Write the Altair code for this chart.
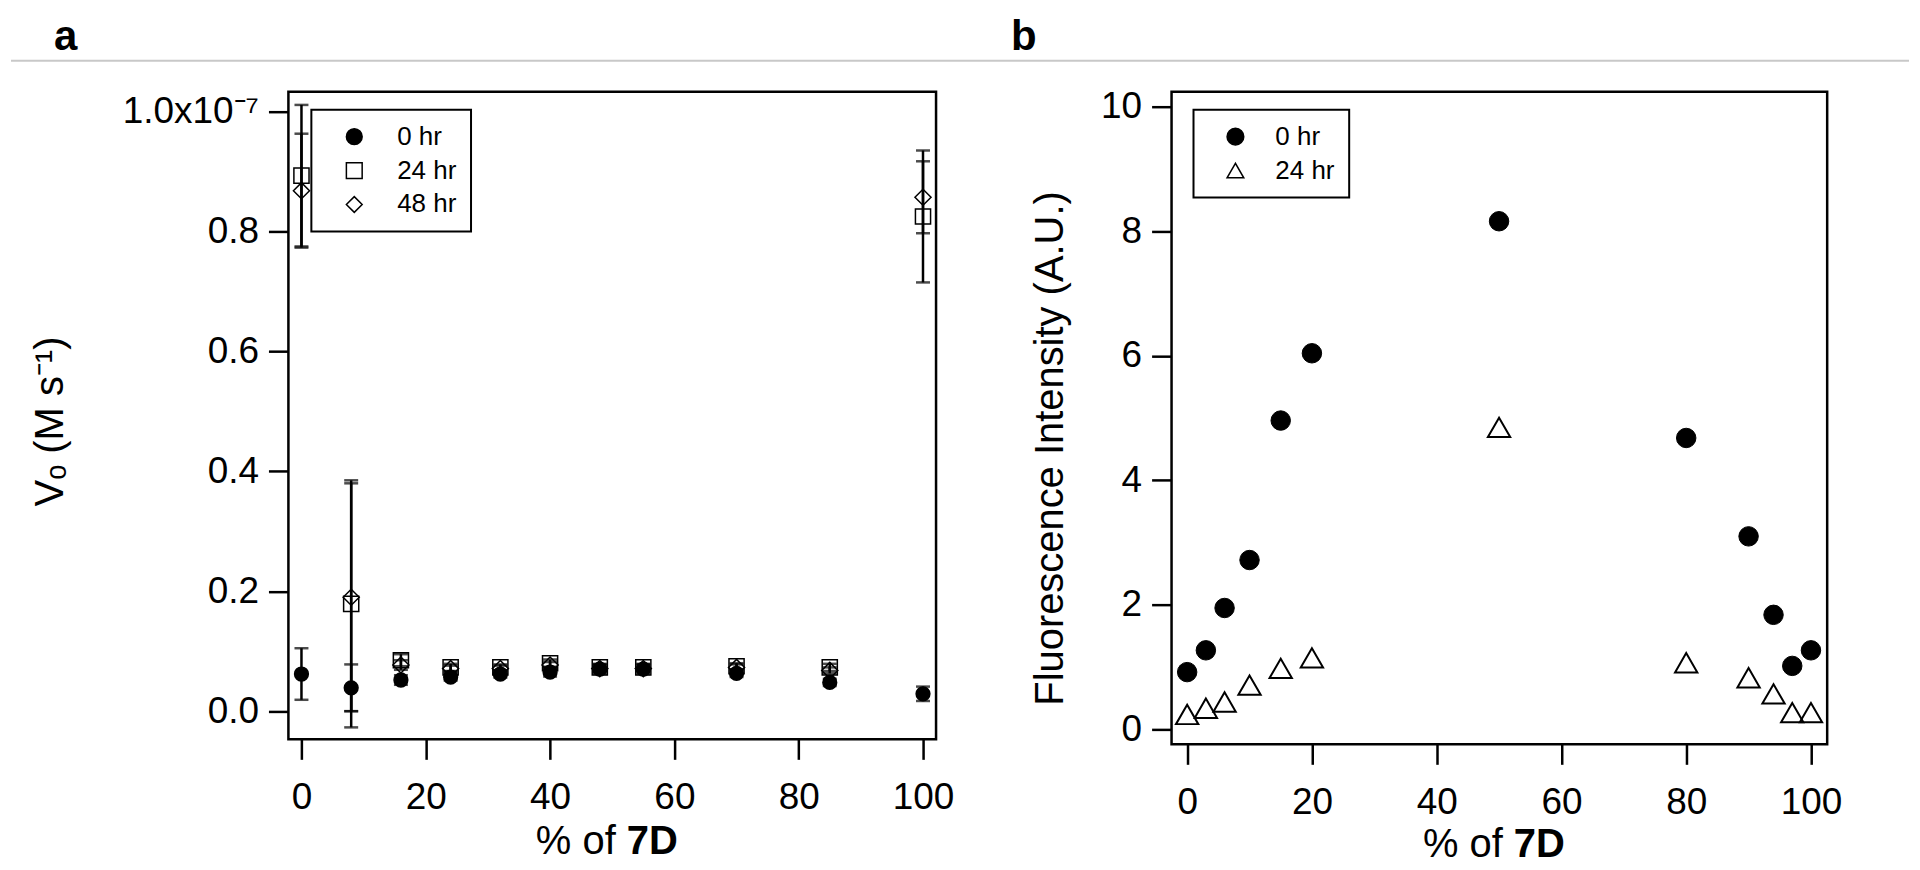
import altair as alt
import pandas as pd

FONT = "Liberation Sans"

# ---------------- panel a : V0 (units of 1e-7 M s^-1) vs % of 7D ----------------
pct_a = [0, 8, 16, 24, 32, 40, 48, 55, 70, 85, 100]
v0_0hr = [0.062, 0.039, 0.052, 0.057, 0.062, 0.065, 0.070, 0.070, 0.063, 0.048, 0.029]
err_0hr = [0.043, 0.039, 0.008, 0.006, 0.006, 0.007, 0.008, 0.008, 0.006, 0.006, 0.012]
v0_24hr = [0.893, 0.179, 0.085, 0.073, 0.073, 0.080, 0.073, 0.073, 0.075, 0.073, 0.825]
err_24hr = [0.118, 0.206, 0.010, 0.006, 0.005, 0.006, 0.006, 0.006, 0.005, 0.006, 0.110]
v0_48hr = [0.868, 0.190, 0.077, 0.071, 0.071, 0.077, 0.071, 0.071, 0.073, 0.068, 0.857]
err_48hr = [0.095, 0.190, 0.008, 0.005, 0.005, 0.005, 0.006, 0.006, 0.005, 0.005, 0.060]
series_a = ["0 hr", "24 hr", "48 hr"]
ticks_ya = [0, 0.2, 0.4, 0.6, 0.8, 1.0]

# ---------------- panel b : fluorescence vs % of 7D ----------------
pct_b = [0, 3, 6, 10, 15, 20, 50, 80, 90, 94, 97, 100]
fl_0hr = [0.92, 1.27, 1.95, 2.72, 4.96, 6.04, 8.16, 4.68, 3.10, 1.84, 1.02, 1.27]
fl_24hr = [0.24, 0.34, 0.44, 0.71, 0.98, 1.15, 4.85, 1.07, 0.83, 0.57, 0.27, 0.27]
series_b = ["0 hr", "24 hr"]
ticks_yb = [0, 2, 4, 6, 8, 10]
ticks_x = [0, 20, 40, 60, 80, 100]

rows = []
for s, vals, errs in zip(series_a, [v0_0hr, v0_24hr, v0_48hr], [err_0hr, err_24hr, err_48hr]):
    for p, v, e in zip(pct_a, vals, errs):
        rows.append({"pct": p, "v": v, "lo": v - e, "hi": v + e, "series": s})
df_a = pd.DataFrame(rows)

rows = []
for s, vals in zip(series_b, [fl_0hr, fl_24hr]):
    for p, v in zip(pct_b, vals):
        rows.append({"pct": p, "f": v, "series": s})
df_b = pd.DataFrame(rows)

one = pd.DataFrame({"k": [0]})

WA, HA = 649, 649
WB, HB = 657, 654


def txt(s, x, y, size=40, weight="normal", align="left"):
    return alt.Chart(one).mark_text(
        align=align, baseline="alphabetic", font=FONT, fontSize=size,
        fontWeight=weight, color="black"
    ).encode(x=alt.value(x), y=alt.value(y), text=alt.value(s))


def xtitle(w, y):
    c = w / 2
    return [txt("% of", c + 3.5, y, align="right"), txt("7D", c + 14.5, y, weight="bold")]


def legend(x, y, sym_off, lab_off, sym_size, expr=None):
    kw = dict(
        title=None, orient="none", legendX=x, legendY=y, padding=14,
        symbolOffset=sym_off, labelOffset=lab_off, rowPadding=8, labelFont=FONT,
        labelFontSize=26, labelColor="black", symbolSize=sym_size,
        symbolStrokeWidth=1.5, strokeColor="black", fillColor="white",
    )
    if expr:
        kw["labelExpr"] = expr
    return alt.Legend(**kw)


# ---------- panel a ----------
sx_a = alt.Scale(domain=[-2.1, 102.1], nice=False, zero=False)
sy_a = alt.Scale(domain=[-0.047, 1.033], nice=False, zero=False)
ax_xa = alt.Axis(values=ticks_x, title=None)
ax_ya = alt.Axis(
    values=ticks_ya,
    labelExpr="datum.value == 1 ? '1.0x10\u207b\u2077' : format(datum.value, '.1f')",
    title="V\u2092 (M s\u207b\u00b9)", titleX=-218, titleY=330,
)
X_a = alt.X("pct:Q", scale=sx_a, axis=ax_xa)

leg_a = legend(23, 18, 16, 30, 250)
shape_a = alt.Shape("series:N", scale=alt.Scale(domain=series_a, range=["circle", "square", "diamond"]), legend=leg_a)
fill_a = alt.Fill("series:N", scale=alt.Scale(domain=series_a, range=["black", "transparent", "transparent"]), legend=leg_a)
stroke_a = alt.Stroke("series:N", scale=alt.Scale(domain=series_a, range=["black", "black", "black"]), legend=leg_a)

base_a = alt.Chart(df_a)
rule_a = base_a.mark_rule(color="black", strokeWidth=2.5).encode(
    x=X_a, y=alt.Y("lo:Q", scale=sy_a, axis=ax_ya), y2="hi:Q")
caplo_a = base_a.mark_tick(orient="horizontal", size=14, thickness=2.5, color="black").encode(
    x=X_a, y=alt.Y("lo:Q", scale=sy_a, axis=ax_ya))
caphi_a = base_a.mark_tick(orient="horizontal", size=14, thickness=2.5, color="black").encode(
    x=X_a, y=alt.Y("hi:Q", scale=sy_a, axis=ax_ya))


def pts_a(series, size):
    return base_a.transform_filter(alt.datum.series == series).mark_point(
        size=size, strokeWidth=1.5, opacity=1
    ).encode(x=X_a, y=alt.Y("v:Q", scale=sy_a, axis=ax_ya), shape=shape_a, fill=fill_a, stroke=stroke_a)


sep = alt.Chart(one).mark_rule(color="#c8c8c8", strokeWidth=2).encode(
    x=alt.value(-278), x2=alt.value(1624), y=alt.value(-31))

chart_a = alt.layer(
    rule_a, caplo_a, caphi_a,
    pts_a("48 hr", 260), pts_a("24 hr", 230), pts_a("0 hr", 190),
    sep, txt("a", -235, -42, size=42, weight="bold"),
    *xtitle(WA, 764),
).properties(width=WA, height=HA)

# ---------- panel b ----------
sx_b = alt.Scale(domain=[-2.5, 102.6], nice=False, zero=False)
sy_b = alt.Scale(domain=[-0.24, 10.24], nice=False, zero=False)
X_b = alt.X("pct:Q", scale=sx_b, axis=alt.Axis(values=ticks_x, title=None))
Y_b = alt.Y("f:Q", scale=sy_b, axis=alt.Axis(
    values=ticks_yb, title="Fluorescence Intensity (A.U.)", titleX=-101, titleY=357))

leg_b = legend(22, 18, 15, 27, 280, "datum.label == '0 hr' ? '\u20070 hr' : datum.label")
shape_b = alt.Shape("series:N", scale=alt.Scale(domain=series_b, range=["circle", "triangle-up"]), legend=leg_b)
fill_b = alt.Fill("series:N", scale=alt.Scale(domain=series_b, range=["black", "transparent"]), legend=leg_b)
stroke_b = alt.Stroke("series:N", scale=alt.Scale(domain=series_b, range=["black", "black"]), legend=leg_b)

base_b = alt.Chart(df_b)


def pts_b(series, size, sw):
    return base_b.transform_filter(alt.datum.series == series).mark_point(
        size=size, strokeWidth=sw, opacity=1
    ).encode(x=X_b, y=Y_b, shape=shape_b, fill=fill_b, stroke=stroke_b)


chart_b = alt.layer(
    pts_b("24 hr", 500, 2), pts_b("0 hr", 380, 1),
    txt("b", -161, -42, size=42, weight="bold"),
    *xtitle(WB, 767),
).properties(width=WB, height=HB)

chart = alt.hconcat(chart_a, chart_b, spacing=236, bounds="flush").resolve_scale(
    shape="independent", fill="independent", stroke="independent"
).resolve_legend(
    shape="independent", fill="independent", stroke="independent"
).properties(
    padding={"left": 0, "top": 5, "right": 0, "bottom": 0}
).configure_view(
    stroke="black", strokeWidth=2.5
).configure_axis(
    domain=False, grid=False, tickColor="black", tickWidth=2.5, tickSize=20,
    labelFont=FONT, labelFontSize=37, labelColor="black", labelFlush=False,
    labelOverlap=False, titleFont=FONT, titleFontSize=40,
    titleFontWeight="normal", titleColor="black",
).configure_axisX(labelPadding=20).configure_axisY(labelPadding=10).configure_legend(
    strokeWidth=2
)

chart.save("out.html", embed_options={"renderer": "svg", "actions": False})
